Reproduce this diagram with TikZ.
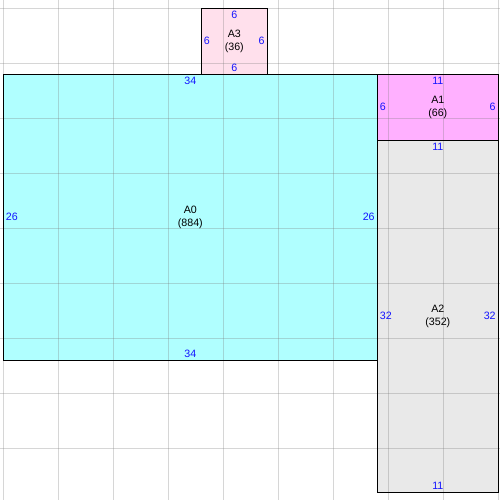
\documentclass[tikz,border=0pt]{standalone}
\usepackage{fontspec}
\setmainfont{Liberation Sans}
\definecolor{cA0}{RGB}{176,255,255}
\definecolor{cA1}{RGB}{255,176,255}
\definecolor{cA2}{RGB}{233,233,233}
\definecolor{cA3}{RGB}{255,224,236}
\definecolor{dimblue}{RGB}{20,20,255}
\definecolor{gridgray}{RGB}{120,120,120}
\begin{document}
\begin{tikzpicture}[x=8.25pt,y=-8.25pt,
  area/.style={inner sep=0pt,outer sep=0pt,anchor=north west},
  border/.style={draw=black,line width=0.8pt},
  gridline/.style={draw=gridgray,opacity=0.3,line width=0.6pt},
  dim/.style={text=dimblue,font=\fontsize{8}{9.3}\selectfont,inner sep=1.8pt},
  lbl/.style={align=center,font=\fontsize{8}{9.3}\selectfont,text=black,inner sep=0pt}]
\useasboundingbox (-0.3,-0.7545) rectangle (45.155,44.7);
% filled areas
\node[area,fill=cA0,minimum width=34*8.25pt,minimum height=26*8.25pt] (A0) at (0,6) {};
\node[area,fill=cA1,minimum width=11*8.25pt,minimum height=6*8.25pt] (A1) at (34,6) {};
\node[area,fill=cA2,minimum width=11*8.25pt,minimum height=32*8.25pt] (A2) at (34,12) {};
\node[area,fill=cA3,minimum width=6*8.25pt,minimum height=6*8.25pt] (A3) at (18,0) {};
% grid
\foreach \gx in {0,5,...,45} {\draw[gridline] (\gx,-0.7545) -- (\gx,44.7);}
\foreach \gy in {0,5,...,40} {\draw[gridline] (-0.3,\gy) -- (45.155,\gy);}
% borders
\foreach \r in {A0,A1,A2,A3} {\draw[border] (\r.north west) rectangle (\r.south east);}
% A0 labels
\node[dim,anchor=north] (A0t) at (A0.north) {34};
\node[dim,anchor=south] (A0b) at (A0.south) {34};
\node[dim,anchor=west] (A0l) at (A0.west) {26};
\node[dim,anchor=east] (A0r) at (A0.east) {26};
\node[lbl] (A0n) at (A0.center) {A0\\(884)};
% A1 labels
\node[dim,anchor=north] (A1t) at (A1.north) {11};
\node[dim,anchor=west] (A1l) at (A1.west) {6};
\node[dim,anchor=east] (A1r) at (A1.east) {6};
\node[lbl] (A1n) at (A1.center) {A1\\(66)};
% A2 labels
\node[dim,anchor=north] (A2t) at (A2.north) {11};
\node[dim,anchor=south] (A2b) at (A2.south) {11};
\node[dim,anchor=west] (A2l) at (A2.west) {32};
\node[dim,anchor=east] (A2r) at (A2.east) {32};
\node[lbl] (A2n) at (A2.center) {A2\\(352)};
% A3 labels
\node[dim,anchor=north] (A3t) at (A3.north) {6};
\node[dim,anchor=south] (A3b) at (A3.south) {6};
\node[dim,anchor=west] (A3l) at (A3.west) {6};
\node[dim,anchor=east] (A3r) at (A3.east) {6};
\node[lbl] (A3n) at (A3.center) {A3\\(36)};
\end{tikzpicture}
\end{document}
